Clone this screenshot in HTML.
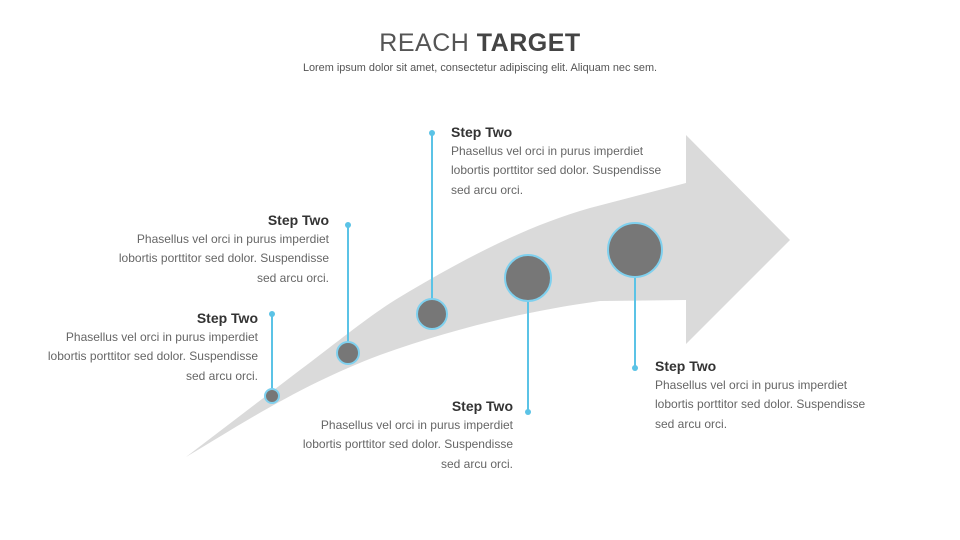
<!DOCTYPE html>
<html><head><meta charset="utf-8"><style>
html,body{margin:0;padding:0;background:#fff;}
body{width:960px;height:540px;position:relative;overflow:hidden;font-family:"Liberation Sans",sans-serif;}
.t{position:absolute;font-size:12px;line-height:19.3px;color:#666;white-space:nowrap;}
.t b{display:block;font-size:14px;color:#333;line-height:19px;}
.r{text-align:right;}
</style></head><body>
<div style="position:absolute;left:0;width:960px;top:29px;text-align:center;font-size:25px;color:#555;letter-spacing:0.5px;">REACH <b style="color:#444">TARGET</b></div>
<div style="position:absolute;left:0;width:960px;top:62px;text-align:center;font-size:10.9px;color:#555;">Lorem ipsum dolor sit amet, consectetur adipiscing elit. Aliquam nec sem.</div>
<svg width="960" height="540" style="position:absolute;left:0;top:0">
<path d="M186,457 L300,370 C340,340 370,315 400,297 C470,255 530,225 590,208 L686,183 L686,135 L790,240 L686,344 L686,300 L600,301 C520,312 450,330 380,355 C300,385 240,425 186,457 Z" fill="#dadada"/>
<g stroke="#5bc3e6" stroke-width="2">
<line x1="272" y1="314" x2="272" y2="396"/>
<line x1="348" y1="225" x2="348" y2="353"/>
<line x1="432" y1="133" x2="432" y2="314"/>
<line x1="528" y1="278" x2="528" y2="412"/>
<line x1="635" y1="250" x2="635" y2="368"/>
</g>
<g fill="#5bc3e6">
<circle cx="272" cy="314" r="3"/><circle cx="348" cy="225" r="3"/><circle cx="432" cy="133" r="3"/><circle cx="528" cy="412" r="3"/><circle cx="635" cy="368" r="3"/>
</g>
<g fill="#777" stroke="#7fd0ee" stroke-width="2">
<circle cx="272" cy="396" r="7"/>
<circle cx="348" cy="353" r="11"/>
<circle cx="432" cy="314" r="15"/>
<circle cx="528" cy="278" r="23"/>
<circle cx="635" cy="250" r="27"/>
</g>
</svg>
<div class="t" style="left:451px;top:123px"><b>Step Two</b>Phasellus vel orci in purus imperdiet<br>lobortis porttitor sed dolor. Suspendisse<br>sed arcu orci.</div>
<div class="t r" style="right:631px;top:211px"><b>Step Two</b>Phasellus vel orci in purus imperdiet<br>lobortis porttitor sed dolor. Suspendisse<br>sed arcu orci.</div>
<div class="t r" style="right:702px;top:309px"><b>Step Two</b>Phasellus vel orci in purus imperdiet<br>lobortis porttitor sed dolor. Suspendisse<br>sed arcu orci.</div>
<div class="t r" style="right:447px;top:397px"><b>Step Two</b>Phasellus vel orci in purus imperdiet<br>lobortis porttitor sed dolor. Suspendisse<br>sed arcu orci.</div>
<div class="t" style="left:655px;top:357px"><b>Step Two</b>Phasellus vel orci in purus imperdiet<br>lobortis porttitor sed dolor. Suspendisse<br>sed arcu orci.</div>
</body></html>
